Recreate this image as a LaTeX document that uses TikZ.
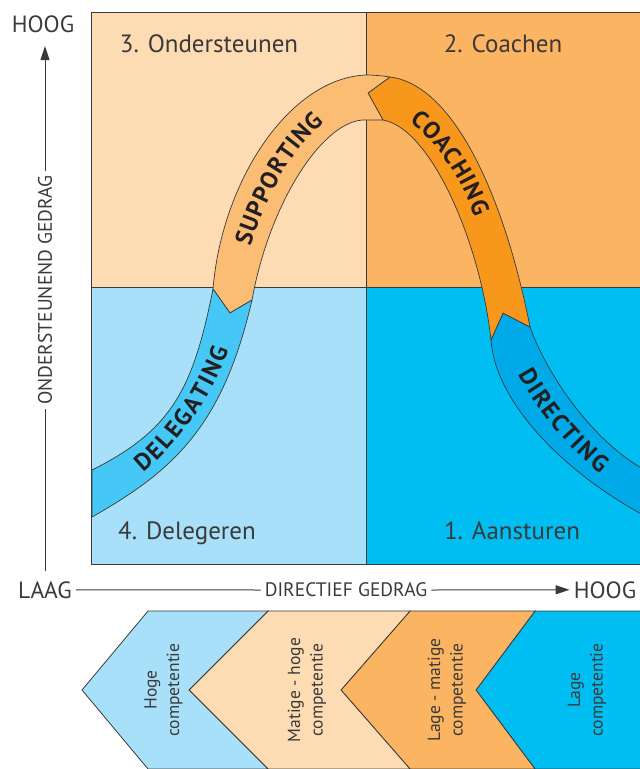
\documentclass[tikz,border=0pt]{standalone}
\usepackage{fontspec}
\setmainfont{PT Sans}
\usetikzlibrary{arrows.meta,decorations.text}

\definecolor{qsupport}{HTML}{FDDCB3}
\definecolor{qcoach}{HTML}{FBB562}
\definecolor{qdelegate}{HTML}{A9E0F9}
\definecolor{qdirect}{HTML}{00BDF2}
\definecolor{bsupport}{HTML}{FBBD74}
\definecolor{bcoach}{HTML}{F7981D}
\definecolor{bdelegate}{HTML}{45C8F5}
\definecolor{bdirect}{HTML}{00A9E8}
\definecolor{ink}{HTML}{3A3A3A}
\definecolor{bandink}{HTML}{231F20}

\newcommand\bandfont{\fontsize{24}{24}\selectfont\bfseries}
% one band letter followed by a little tracking
\newcommand\tl[1]{#1\kern1.6pt}

\tikzset{
  gridline/.style={draw=ink, line width=1pt},
  band/.style={draw=ink, line width=0.7pt, line join=round},
  bandtext/.style={decorate, decoration={text along path,
      text={|\bandfont|#1}, text align=center, text color=bandink, raise=-8.4pt}},
  qlabel/.style={anchor=base, inner sep=0pt, text=ink, font=\fontsize{25}{25}\selectfont},
  axislabel/.style={inner sep=4pt, text=ink, font=\fontsize{23.5}{23.5}\selectfont},
  axismid/.style={inner sep=4pt, text=ink, font=\fontsize{19.5}{19.5}\selectfont},
  axisline/.style={draw=ink, line width=1pt},
  axistip/.style={-{Triangle[length=14pt,width=9pt]}},
  chev/.style={draw=ink, line width=0.8pt, line join=miter},
  chevtext/.style={rotate=90, align=center, text=ink, inner sep=0pt,
      font=\fontsize{17.5}{22.5}\selectfont}
}

\begin{document}
\begin{tikzpicture}[x=1pt, y=-1pt]
\useasboundingbox (0,0) rectangle (640,769);

% the four quadrants
\fill[qsupport]  (91,12)  rectangle (366,287);
\fill[qcoach]    (366,12) rectangle (640,287);
\fill[qdelegate] (91,287) rectangle (366,564);
\fill[qdirect]   (366,287) rectangle (640,564);
\draw[gridline] (366,12) -- (366,564);
\draw[gridline] (91,287) -- (640,287);
\draw[gridline] (640,12) -- (91,12) -- (91,564) -- (640,564);

% quadrant titles
\node[qlabel] (lsupport)  at (209,52)  {3. Ondersteunen};
\node[qlabel] (lcoach)    at (503,52)  {2. Coachen};
\node[qlabel] (ldelegate) at (187,539) {4. Delegeren};
\node[qlabel] (ldirect)   at (512,539) {1. Aansturen};

% the curved band, in four segments
\filldraw[band, fill=bdirect] (491,340) -- (503,313) -- (530,327)
  .. controls (545,370) and (590,440) .. (645,470)
  -- (645,516)
  .. controls (560,470) and (495,400) .. (491,340)
  -- cycle;
\filldraw[band, fill=bcoach] (390,77)
  .. controls (455,85) and (505,200) .. (530,327)
  -- (503,313) -- (491,340)
  .. controls (480,240) and (430,128) .. (383,120)
  -- (368,93) -- cycle;
\filldraw[band, fill=bsupport] (213,289)
  .. controls (222,180) and (290,78) .. (366,75)
  .. controls (375,75) and (383,76) .. (390,77)
  -- (368,93) -- (383,120) -- (366,120)
  .. controls (325,118) and (270,200) .. (252,300)
  -- (230,313) -- cycle;
\filldraw[band, fill=bdelegate] (213,289) -- (230,313) -- (252,300)
  .. controls (223,425) and (175,470) .. (92,517)
  -- (92,470)
  .. controls (172,430) and (193,389) .. (213,289)
  -- cycle;

% band lettering, set along the middle of each segment
\path[bandtext={{\tl D}{\tl E}{\tl L}{\tl E}{\tl G}{\tl A}{\tl T}{\tl I}{\tl N}{G}}]
  (92,493) .. controls (160,470) and (228,370) .. (232,295);
\path[bandtext={{\tl S}{\tl U}{\tl P}{\tl P}{\tl O}{\tl R}{\tl T}{\tl I}{\tl N}{G}}]
  (232,295) .. controls (240,215) and (300,97) .. (366,97);
\path[bandtext={{\tl C}{\tl O}{\tl A}{\tl C}{\tl H}{\tl I}{\tl N}{G}}]
  (380,98) .. controls (435,112) and (485,190) .. (490,252);
\path[bandtext={{\tl D}{\tl I}{\tl R}{\tl E}{\tl C}{\tl T}{\tl I}{\tl N}{G}}]
  (510,332) .. controls (518,375) and (580,460) .. (640,490);

% axes
\node[axislabel, anchor=base] (hoogy) at (43,32)  {HOOG};
\node[axislabel, anchor=base] (laag)  at (45,598) {LAAG};
\node[axislabel, anchor=base] (hoogx) at (605,598) {HOOG};
\node[axismid] (xlab) at (346,590) {DIRECTIEF GEDRAG};
\node[axismid, rotate=90] (ylab) at (45,290) {ONDERSTEUNEND GEDRAG};
\coordinate (ybot) at (45,571);
\coordinate (ytop) at (45,46);
\draw[axisline] (ybot) -- (ylab.west);
\draw[axisline, axistip] (ylab.east) -- (ytop);
\draw[axisline] (laag.east) -- (xlab.west);
\draw[axisline, axistip] (xlab.east) -- (hoogx.west);

% competence chevrons
\begin{scope}
  \clip (0,600) rectangle (640,768.5);
  \filldraw[chev, fill=qdirect]    (535,611) -- (646,611) -- (646,769) -- (535,769) -- (476,690) -- cycle;
  \filldraw[chev, fill=qcoach]     (410,611) -- (535,611) -- (476,690) -- (535,769) -- (410,769) -- (341,690) -- cycle;
  \filldraw[chev, fill=qsupport]   (268,611) -- (410,611) -- (341,690) -- (410,769) -- (268,769) -- (189,690) -- cycle;
  \filldraw[chev, fill=qdelegate]  (148,611) -- (268,611) -- (189,690) -- (268,769) -- (148,769) -- (82,690) -- cycle;
\end{scope}
\node[chevtext] (c1) at (163.5,690) {Hoge\\competentie};
\node[chevtext] (c2) at (307,690)   {Matige - hoge\\competentie};
\node[chevtext] (c3) at (447,690)   {Lage - matige\\competentie};
\node[chevtext] (c4) at (587,690)   {Lage\\competentie};
\end{tikzpicture}
\end{document}
